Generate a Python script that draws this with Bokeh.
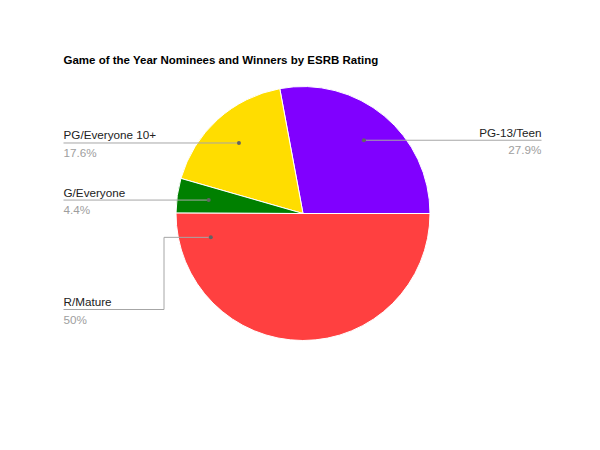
import math
from bokeh.plotting import figure
from bokeh.models import Range1d, ColumnDataSource
from bokeh.core.properties import value
from bokeh.embed import file_html
from bokeh.resources import INLINE

# ---- data ----
title = "Game of the Year Nominees and Winners by ESRB Rating"
categories = ["PG-13/Teen", "PG/Everyone 10+", "G/Everyone", "R/Mature"]
percents = [27.9, 17.6, 4.4, 50.0]
pct_labels = ["27.9%", "17.6%", "4.4%", "50%"]
colors = ["#8000ff", "#ffdd00", "#008000", "#ff4040"]

# ---- layout (image pixel coords, y down) ----
W, H = 584, 434
CX, CY, R = 302.5, 213.0, 127.0
FONT = "Liberation Sans"

def Y(y_img):
    return 450 - y_img

p = figure(width=W, height=H, output_backend="svg", toolbar_location=None,
           x_range=Range1d(0, 584), y_range=Range1d(16, 450),
           x_axis_type=None, y_axis_type=None, min_border=0)
p.outline_line_color = None
p.grid.visible = False
p.background_fill_color = "white"
p.border_fill_color = "white"

total = sum(percents)
starts, ends = [], []
acc = 0.0
for v in percents:
    starts.append(acc / total * 2 * math.pi)
    acc += v
    ends.append(acc / total * 2 * math.pi)

src = ColumnDataSource(dict(start=starts, end=ends, color=colors))
p.wedge(x=CX, y=Y(CY), radius=R, start_angle="start", end_angle="end",
        fill_color="color", line_color="white", line_width=1, source=src)

# title
p.text(x=[63], y=[Y(59.5)], text=[title], text_font=value(FONT),
       text_font_size="11.5px", text_font_style="bold", text_color="#000000",
       text_baseline="middle", text_align="left")

# label anchors
r_anchor = 0.75 * R
line_col = "#a6a6a6"
for i, name in enumerate(categories):
    mid = (starts[i] + ends[i]) / 2
    if i == 3:
        mid = math.radians(194.5)  # large slice anchor moved toward its label
    ax = CX + r_anchor * math.cos(mid)
    ay = CY - r_anchor * math.sin(mid)
    if i == 0:
        xs = [ax, 541]
        ys = [ay, ay]
        tx, ty, align = 541, ay, "right"
    elif i == 3:
        xs = [ax, 163.5, 163.5, 63]
        ys = [ay, ay, 309, 309]
        tx, ty, align = 63, 309, "left"
    else:
        xs = [ax, 63]
        ys = [ay, ay]
        tx, ty, align = 63, ay, "left"
    p.line(x=xs, y=[Y(v) for v in ys], line_color=line_col, line_width=1)
    p.scatter(x=[ax], y=[Y(ay)], size=4, fill_color="#636363",
              line_color=None)
    p.text(x=[tx], y=[Y(ty - 8)], text=[name], text_font=value(FONT),
           text_font_size="11.7px", text_color="#222222",
           text_baseline="middle", text_align=align)
    p.text(x=[tx], y=[Y(ty + 9.5)], text=[pct_labels[i]], text_font=value(FONT),
           text_font_size="11.7px", text_color="#9e9e9e",
           text_baseline="middle", text_align=align)

open("out.html", "w").write(file_html(p, INLINE))
